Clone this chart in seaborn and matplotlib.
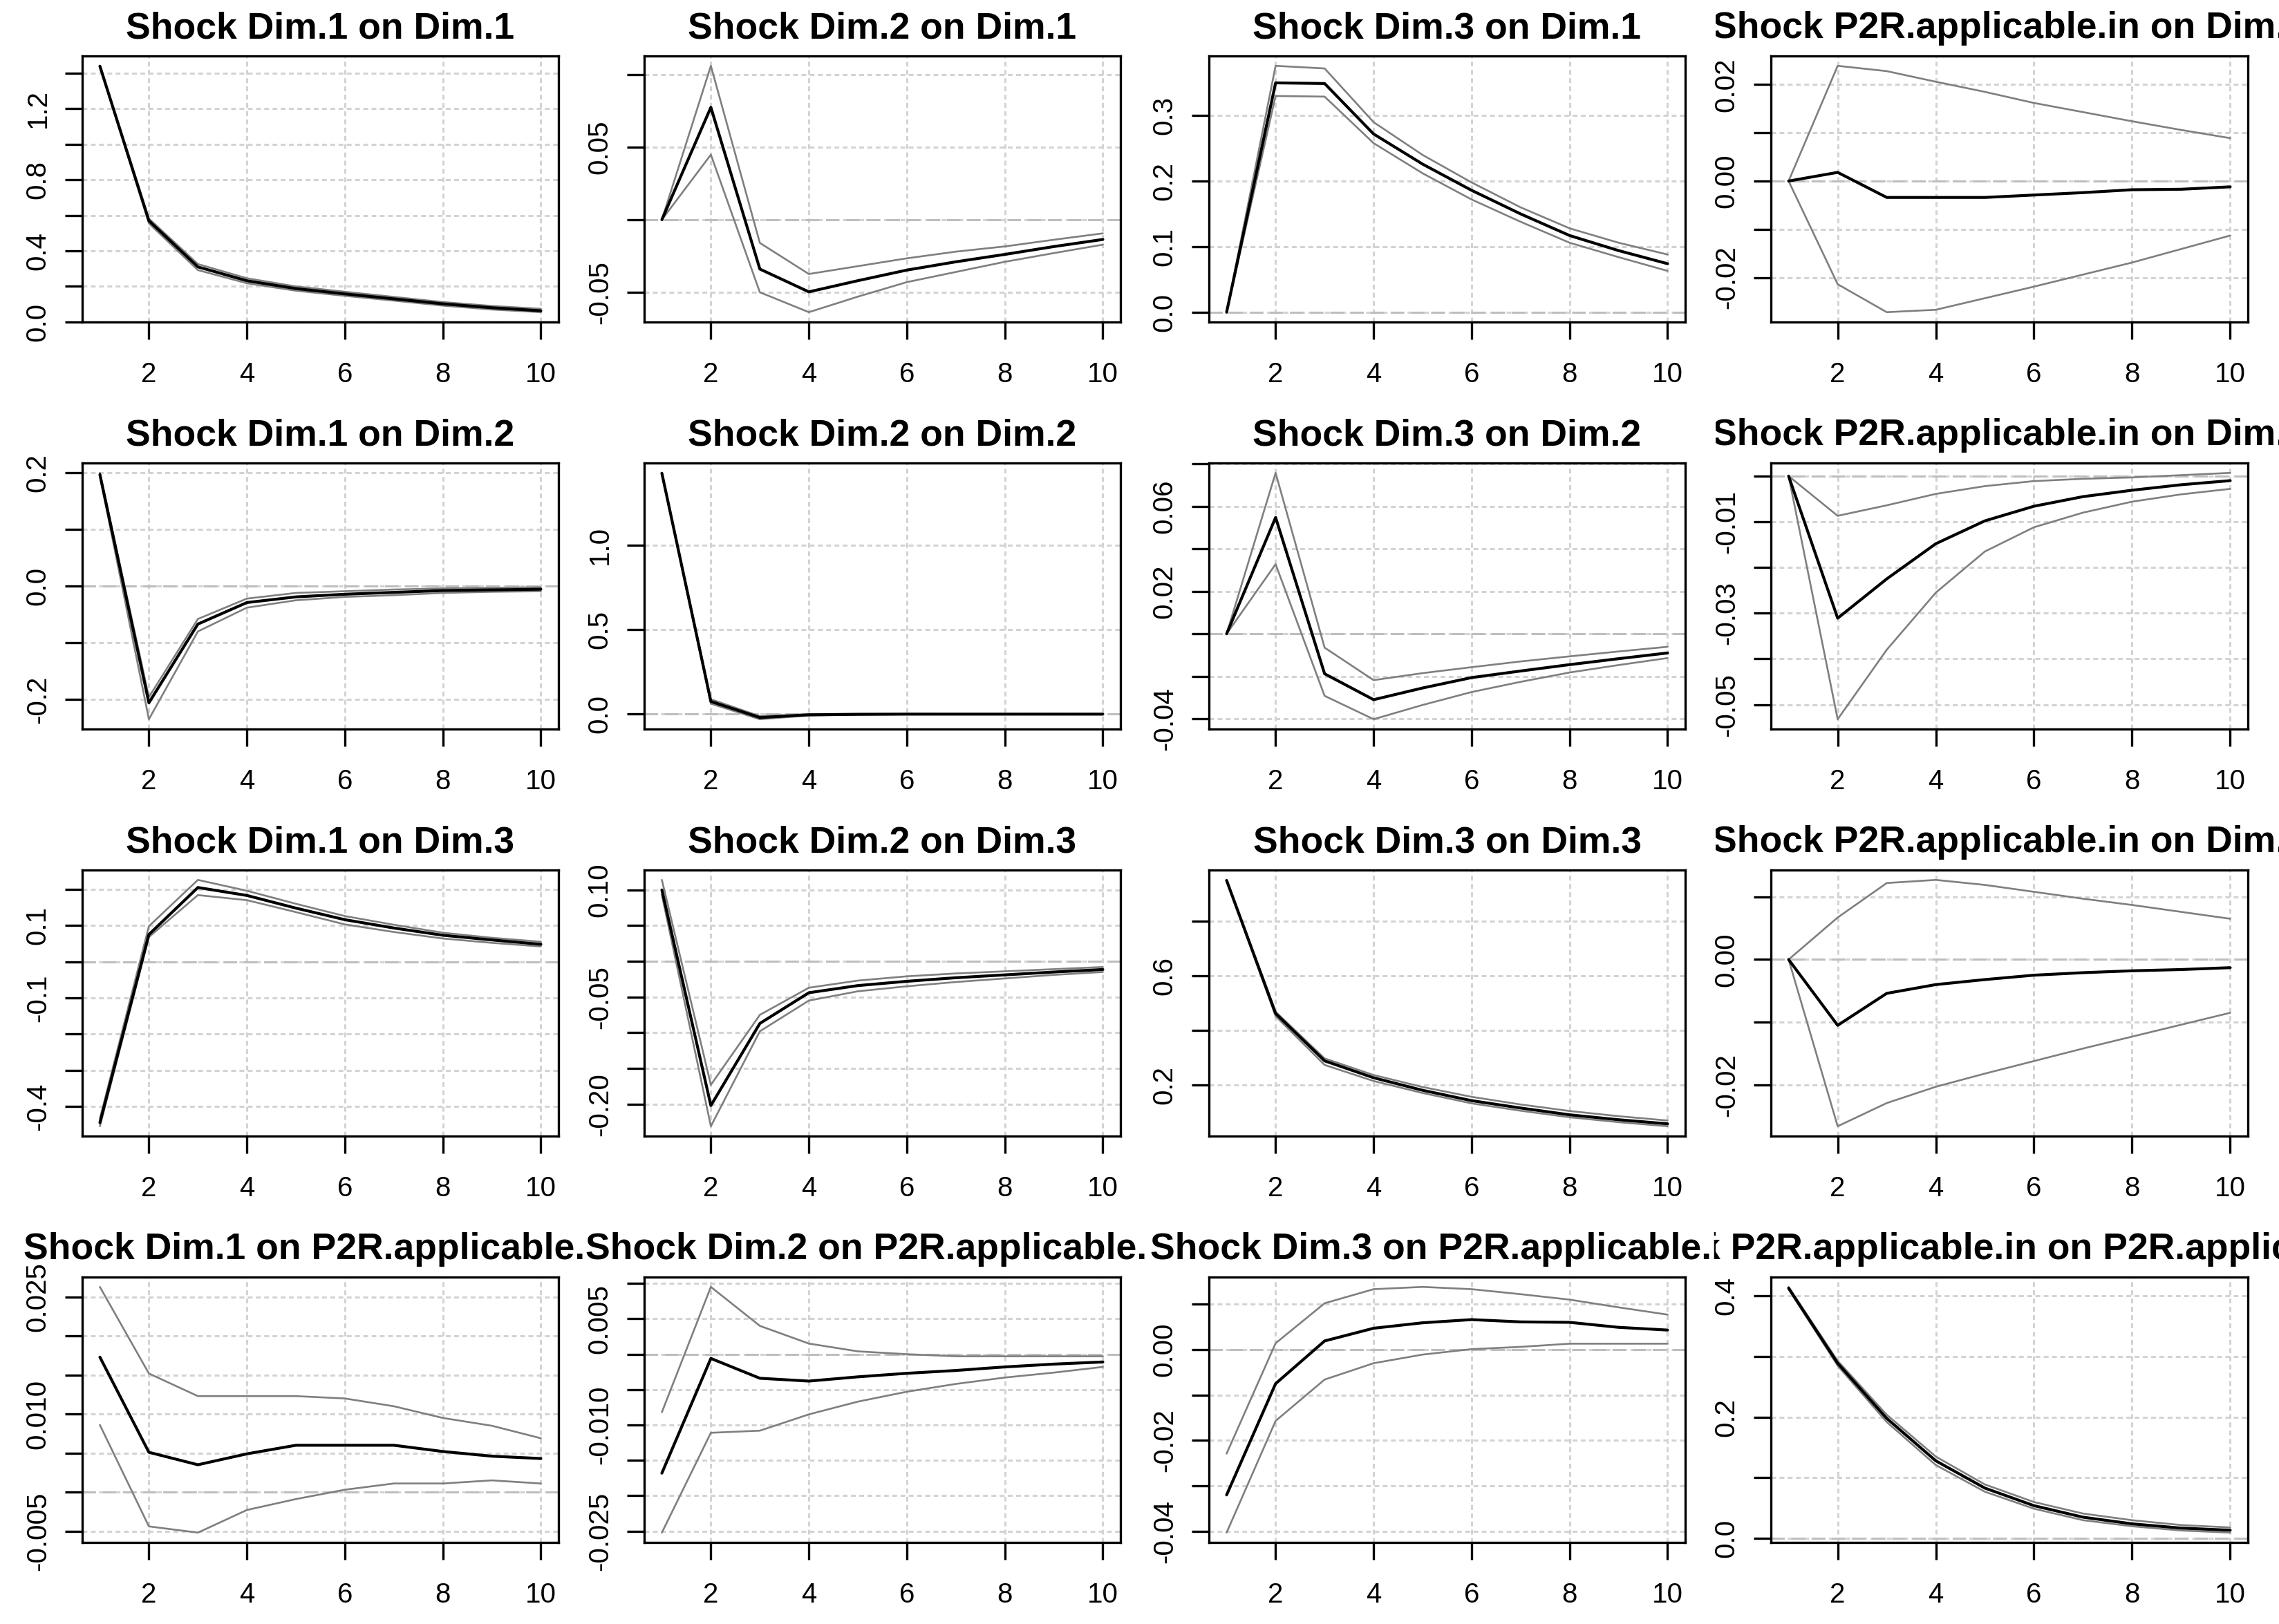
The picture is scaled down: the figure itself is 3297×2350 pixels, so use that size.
## Impulse responses, 4 x 4 grid (shock in columns, response in rows)

import matplotlib
matplotlib.use("Agg")
import matplotlib.pyplot as plt
import seaborn as sns
from matplotlib.transforms import Bbox, TransformedBbox

############################# Data ################################

steps = [1, 2, 3, 4, 5, 6, 7, 8, 9, 10]
variables = ["Dim.1", "Dim.2", "Dim.3", "P2R.applicable.in"]
xtick_vals = [2, 4, 6, 8, 10]

# response of Dim.1
dim1_on_dim1_irf = [1.440, 0.570, 0.310, 0.232, 0.188, 0.158, 0.130, 0.102, 0.080, 0.063]
dim1_on_dim1_lo = [1.438, 0.555, 0.292, 0.218, 0.176, 0.147, 0.120, 0.092, 0.070, 0.055]
dim1_on_dim1_hi = [1.442, 0.582, 0.326, 0.246, 0.200, 0.170, 0.141, 0.112, 0.090, 0.074]
dim1_on_dim1_yticks = [0.0, 0.2, 0.4, 0.6, 0.8, 1.0, 1.2, 1.4]
dim1_on_dim1_ylabels = ["0.0", "", "0.4", "", "0.8", "", "1.2", ""]

dim2_on_dim1_irf = [0.0, 0.0774, -0.034, -0.0497, -0.042, -0.0347, -0.029, -0.0239, -0.0185, -0.0136]
dim2_on_dim1_lo = [0.0, 0.0448, -0.050, -0.0637, -0.053, -0.043, -0.036, -0.029, -0.023, -0.0172]
dim2_on_dim1_hi = [0.0, 0.106, -0.016, -0.0374, -0.032, -0.0266, -0.022, -0.0184, -0.0138, -0.0094]
dim2_on_dim1_yticks = [-0.05, 0.0, 0.05, 0.10]
dim2_on_dim1_ylabels = ["-0.05", "", "0.05", ""]

dim3_on_dim1_irf = [0.0, 0.350, 0.349, 0.272, 0.226, 0.186, 0.150, 0.117, 0.094, 0.074]
dim3_on_dim1_lo = [0.0, 0.330, 0.329, 0.258, 0.212, 0.172, 0.138, 0.106, 0.084, 0.063]
dim3_on_dim1_hi = [0.0, 0.376, 0.372, 0.290, 0.240, 0.198, 0.160, 0.128, 0.106, 0.088]
dim3_on_dim1_yticks = [0.0, 0.1, 0.2, 0.3]
dim3_on_dim1_ylabels = ["0.0", "0.1", "0.2", "0.3"]

p2r_on_dim1_irf = [0.0, 0.0018, -0.0034, -0.0034, -0.0034, -0.0029, -0.0024, -0.0018, -0.0017, -0.0012]
p2r_on_dim1_lo = [0.0, -0.0214, -0.0272, -0.0267, -0.0243, -0.0219, -0.0194, -0.0169, -0.0141, -0.0113]
p2r_on_dim1_hi = [0.0, 0.0239, 0.0228, 0.0206, 0.0185, 0.0162, 0.0143, 0.0124, 0.0106, 0.0089]
p2r_on_dim1_yticks = [-0.02, -0.01, 0.0, 0.01, 0.02]
p2r_on_dim1_ylabels = ["-0.02", "", "0.00", "", "0.02"]

# response of Dim.2
dim1_on_dim2_irf = [0.197, -0.206, -0.067, -0.029, -0.019, -0.0143, -0.011, -0.0078, -0.0066, -0.0055]
dim1_on_dim2_lo = [0.194, -0.235, -0.080, -0.038, -0.025, -0.019, -0.016, -0.012, -0.010, -0.009]
dim1_on_dim2_hi = [0.200, -0.196, -0.058, -0.022, -0.012, -0.009, -0.006, -0.004, -0.003, -0.002]
dim1_on_dim2_yticks = [-0.2, -0.1, 0.0, 0.1, 0.2]
dim1_on_dim2_ylabels = ["-0.2", "", "0.0", "", "0.2"]

dim2_on_dim2_irf = [1.424, 0.075, -0.020, -0.004, -0.001, 0.0, 0.0, 0.0, 0.0, 0.0]
dim2_on_dim2_lo = [1.420, 0.062, -0.030, -0.008, -0.003, -0.001, -0.0008, -0.0004, -0.0002, -0.0001]
dim2_on_dim2_hi = [1.426, 0.088, -0.012, 0.0, 0.001, 0.001, 0.0005, 0.0003, 0.0002, 0.0001]
dim2_on_dim2_yticks = [0.0, 0.5, 1.0]
dim2_on_dim2_ylabels = ["0.0", "0.5", "1.0"]

dim3_on_dim2_irf = [0.0, 0.0548, -0.0188, -0.031, -0.0255, -0.0206, -0.0175, -0.0145, -0.0117, -0.009]
dim3_on_dim2_lo = [0.0, 0.0328, -0.0292, -0.0402, -0.0335, -0.0274, -0.0226, -0.0182, -0.0147, -0.0114]
dim3_on_dim2_hi = [0.0, 0.0758, -0.0065, -0.0218, -0.0185, -0.0157, -0.0130, -0.0106, -0.0083, -0.0061]
dim3_on_dim2_yticks = [-0.04, -0.02, 0.0, 0.02, 0.04, 0.06, 0.08]
dim3_on_dim2_ylabels = ["-0.04", "", "", "0.02", "", "0.06", ""]

p2r_on_dim2_irf = [0.0, -0.0311, -0.0225, -0.0148, -0.0098, -0.0066, -0.0045, -0.0031, -0.0019, -0.0010]
p2r_on_dim2_lo = [0.0, -0.0532, -0.0380, -0.0255, -0.0165, -0.0112, -0.0080, -0.0056, -0.0040, -0.0028]
p2r_on_dim2_hi = [0.0, -0.0087, -0.0064, -0.0039, -0.0022, -0.0011, -0.0006, -0.0003, 0.0002, 0.0007]
p2r_on_dim2_yticks = [-0.05, -0.04, -0.03, -0.02, -0.01, 0.0]
p2r_on_dim2_ylabels = ["-0.05", "", "-0.03", "", "-0.01", ""]

# response of Dim.3
dim1_on_dim3_irf = [-0.445, 0.075, 0.205, 0.183, 0.148, 0.116, 0.093, 0.073, 0.060, 0.048]
dim1_on_dim3_lo = [-0.455, 0.068, 0.184, 0.170, 0.137, 0.103, 0.082, 0.064, 0.052, 0.042]
dim1_on_dim3_hi = [-0.434, 0.098, 0.226, 0.196, 0.160, 0.126, 0.102, 0.080, 0.066, 0.055]
dim1_on_dim3_yticks = [-0.4, -0.3, -0.2, -0.1, 0.0, 0.1, 0.2]
dim1_on_dim3_ylabels = ["-0.4", "", "", "-0.1", "", "0.1", ""]

dim2_on_dim3_irf = [0.100, -0.202, -0.087, -0.044, -0.034, -0.028, -0.023, -0.019, -0.015, -0.0115]
dim2_on_dim3_lo = [0.093, -0.231, -0.098, -0.055, -0.042, -0.035, -0.029, -0.024, -0.019, -0.015]
dim2_on_dim3_hi = [0.114, -0.173, -0.075, -0.037, -0.027, -0.021, -0.017, -0.014, -0.011, -0.008]
dim2_on_dim3_yticks = [-0.20, -0.15, -0.10, -0.05, 0.0, 0.05, 0.10]
dim2_on_dim3_ylabels = ["-0.20", "", "", "-0.05", "", "", "0.10"]

dim3_on_dim3_irf = [0.950, 0.462, 0.288, 0.226, 0.180, 0.142, 0.115, 0.090, 0.072, 0.057]
dim3_on_dim3_lo = [0.948, 0.452, 0.273, 0.214, 0.170, 0.132, 0.105, 0.081, 0.063, 0.048]
dim3_on_dim3_hi = [0.952, 0.468, 0.297, 0.236, 0.192, 0.156, 0.128, 0.104, 0.085, 0.069]
dim3_on_dim3_yticks = [0.2, 0.4, 0.6, 0.8]
dim3_on_dim3_ylabels = ["0.2", "", "0.6", ""]

p2r_on_dim3_irf = [0.0, -0.0105, -0.0054, -0.0040, -0.0032, -0.0025, -0.0021, -0.0018, -0.0016, -0.0013]
p2r_on_dim3_lo = [0.0, -0.0266, -0.0229, -0.0203, -0.0182, -0.0162, -0.0142, -0.0123, -0.0104, -0.0085]
p2r_on_dim3_hi = [0.0, 0.0067, 0.0122, 0.0127, 0.0119, 0.0108, 0.0097, 0.0087, 0.0076, 0.0065]
p2r_on_dim3_yticks = [-0.02, -0.01, 0.0, 0.01]
p2r_on_dim3_ylabels = ["-0.02", "", "0.00", ""]

# response of P2R.applicable.in
dim1_on_p2r_irf = [0.0173, 0.0051, 0.0035, 0.0049, 0.0060, 0.0060, 0.0060, 0.0052, 0.0046, 0.0043]
dim1_on_p2r_lo = [0.0086, -0.0044, -0.0052, -0.0023, -0.0009, 0.0003, 0.0011, 0.0011, 0.0015, 0.0011]
dim1_on_p2r_hi = [0.0263, 0.0152, 0.0123, 0.0123, 0.0123, 0.0120, 0.0110, 0.0095, 0.0085, 0.0069]
dim1_on_p2r_yticks = [-0.005, 0.0, 0.005, 0.010, 0.015, 0.020, 0.025]
dim1_on_p2r_ylabels = ["-0.005", "", "", "0.010", "", "", "0.025"]

dim2_on_p2r_irf = [-0.0168, -0.0006, -0.0034, -0.0038, -0.0032, -0.0027, -0.0023, -0.0018, -0.0014, -0.0011]
dim2_on_p2r_lo = [-0.0252, -0.0111, -0.0108, -0.0085, -0.0067, -0.0053, -0.0042, -0.0033, -0.0026, -0.0018]
dim2_on_p2r_hi = [-0.0082, 0.0095, 0.0040, 0.0015, 0.0004, 0.0000, -0.0003, -0.0003, -0.0003, -0.0003]
dim2_on_p2r_yticks = [-0.025, -0.020, -0.015, -0.010, -0.005, 0.0, 0.005, 0.010]
dim2_on_p2r_ylabels = ["-0.025", "", "", "-0.010", "", "", "0.005", ""]

dim3_on_p2r_irf = [-0.0320, -0.0075, 0.0019, 0.0047, 0.0059, 0.0066, 0.0061, 0.0060, 0.0049, 0.0043]
dim3_on_p2r_lo = [-0.0403, -0.0157, -0.0066, -0.0030, -0.0011, 0.0001, 0.0006, 0.0013, 0.0013, 0.0013]
dim3_on_p2r_hi = [-0.0229, 0.0014, 0.0102, 0.0133, 0.0138, 0.0133, 0.0122, 0.0110, 0.0093, 0.0077]
dim3_on_p2r_yticks = [-0.04, -0.03, -0.02, -0.01, 0.0, 0.01]
dim3_on_p2r_ylabels = ["-0.04", "", "-0.02", "", "0.00", ""]

p2r_on_p2r_irf = [0.413, 0.289, 0.198, 0.128, 0.083, 0.054, 0.035, 0.024, 0.017, 0.0135]
p2r_on_p2r_lo = [0.411, 0.285, 0.192, 0.121, 0.077, 0.049, 0.030, 0.020, 0.013, 0.0095]
p2r_on_p2r_hi = [0.415, 0.293, 0.204, 0.135, 0.089, 0.060, 0.041, 0.030, 0.022, 0.018]
p2r_on_p2r_yticks = [0.0, 0.1, 0.2, 0.3, 0.4]
p2r_on_p2r_ylabels = ["0.0", "", "0.2", "", "0.4"]

# panel table: (row, col, irf, lower, upper, yticks, ylabels)
panels = [
    (0, 0, dim1_on_dim1_irf, dim1_on_dim1_lo, dim1_on_dim1_hi, dim1_on_dim1_yticks, dim1_on_dim1_ylabels),
    (0, 1, dim2_on_dim1_irf, dim2_on_dim1_lo, dim2_on_dim1_hi, dim2_on_dim1_yticks, dim2_on_dim1_ylabels),
    (0, 2, dim3_on_dim1_irf, dim3_on_dim1_lo, dim3_on_dim1_hi, dim3_on_dim1_yticks, dim3_on_dim1_ylabels),
    (0, 3, p2r_on_dim1_irf, p2r_on_dim1_lo, p2r_on_dim1_hi, p2r_on_dim1_yticks, p2r_on_dim1_ylabels),
    (1, 0, dim1_on_dim2_irf, dim1_on_dim2_lo, dim1_on_dim2_hi, dim1_on_dim2_yticks, dim1_on_dim2_ylabels),
    (1, 1, dim2_on_dim2_irf, dim2_on_dim2_lo, dim2_on_dim2_hi, dim2_on_dim2_yticks, dim2_on_dim2_ylabels),
    (1, 2, dim3_on_dim2_irf, dim3_on_dim2_lo, dim3_on_dim2_hi, dim3_on_dim2_yticks, dim3_on_dim2_ylabels),
    (1, 3, p2r_on_dim2_irf, p2r_on_dim2_lo, p2r_on_dim2_hi, p2r_on_dim2_yticks, p2r_on_dim2_ylabels),
    (2, 0, dim1_on_dim3_irf, dim1_on_dim3_lo, dim1_on_dim3_hi, dim1_on_dim3_yticks, dim1_on_dim3_ylabels),
    (2, 1, dim2_on_dim3_irf, dim2_on_dim3_lo, dim2_on_dim3_hi, dim2_on_dim3_yticks, dim2_on_dim3_ylabels),
    (2, 2, dim3_on_dim3_irf, dim3_on_dim3_lo, dim3_on_dim3_hi, dim3_on_dim3_yticks, dim3_on_dim3_ylabels),
    (2, 3, p2r_on_dim3_irf, p2r_on_dim3_lo, p2r_on_dim3_hi, p2r_on_dim3_yticks, p2r_on_dim3_ylabels),
    (3, 0, dim1_on_p2r_irf, dim1_on_p2r_lo, dim1_on_p2r_hi, dim1_on_p2r_yticks, dim1_on_p2r_ylabels),
    (3, 1, dim2_on_p2r_irf, dim2_on_p2r_lo, dim2_on_p2r_hi, dim2_on_p2r_yticks, dim2_on_p2r_ylabels),
    (3, 2, dim3_on_p2r_irf, dim3_on_p2r_lo, dim3_on_p2r_hi, dim3_on_p2r_yticks, dim3_on_p2r_ylabels),
    (3, 3, p2r_on_p2r_irf, p2r_on_p2r_lo, p2r_on_p2r_hi, p2r_on_p2r_yticks, p2r_on_p2r_ylabels),
]

############################# Layout ################################

W, H = 3298, 2350
col_left = [119, 932, 1749, 2562]
col_right = [808, 1621, 2438, 3252]
row_top = [81, 670, 1259, 1848]
row_bottom = [466, 1055, 1644, 2232]
# titles are clipped to each column's region, like R does
clip_edges = [0, 846, 1662, 2482, W]

sns.set_style("white")
plt.rcParams["font.family"] = ["Liberation Sans", "DejaVu Sans"]
plt.rcParams["lines.scale_dashes"] = False

fig = plt.figure(figsize=(W / 100, H / 100), dpi=100)
fig.patch.set_facecolor("white")

############################# Plotting ################################

for row, col, irf, lo, hi, yticks, ylabels in panels:
    l, r = col_left[col], col_right[col]
    t, b = row_top[row], row_bottom[row]
    ax = fig.add_axes([l / W, 1 - b / H, (r - l) / W, (b - t) / H])

    # zero line
    ax.axhline(0, color="#bebebe", linewidth=2.2, dashes=(14, 7), zorder=1.5)

    # confidence bands then the response
    sns.lineplot(x=steps, y=lo, color="#7f7f7f", linewidth=1.9, ax=ax, zorder=2)
    sns.lineplot(x=steps, y=hi, color="#7f7f7f", linewidth=1.9, ax=ax, zorder=2)
    sns.lineplot(x=steps, y=irf, color="black", linewidth=3.0, ax=ax, zorder=3)

    # R style 4% padding around the data range
    all_vals = irf + lo + hi
    ymin, ymax = min(all_vals), max(all_vals)
    pad = 0.04 * (ymax - ymin)
    ax.set_ylim(ymin - pad, ymax + pad)
    ax.set_xlim(1 - 0.36, 10 + 0.36)

    ax.set_xticks(xtick_vals, [str(v) for v in xtick_vals])
    ax.set_yticks(yticks, ylabels)
    ax.set_xlabel("")
    ax.set_ylabel("")

    ax.grid(True, color="#d3d3d3", linewidth=2.2, linestyle=(0, (5, 3.6)))
    ax.set_axisbelow(True)

    ax.tick_params(axis="both", direction="out", length=18, width=2.4,
                   color="black", labelsize=29, labelcolor="black",
                   bottom=True, left=True)
    ax.tick_params(axis="x", pad=23)
    ax.tick_params(axis="y", pad=14.5, labelrotation=90)
    for lab in ax.get_yticklabels():
        lab.set_verticalalignment("center")

    for sp in ax.spines.values():
        sp.set_visible(True)
        sp.set_color("black")
        sp.set_linewidth(2.4)

    title = ax.set_title(f"Shock {variables[col]} on {variables[row]}",
                         fontsize=38.5, fontweight="bold", pad=18.4, color="black")
    clip = TransformedBbox(Bbox.from_extents(clip_edges[col] / W, 0,
                                             clip_edges[col + 1] / W, 1),
                           fig.transFigure)
    title.set_clip_box(clip)
    title.set_clip_on(True)

fig.savefig("out.png", dpi=100, facecolor="white")
plt.close(fig)
